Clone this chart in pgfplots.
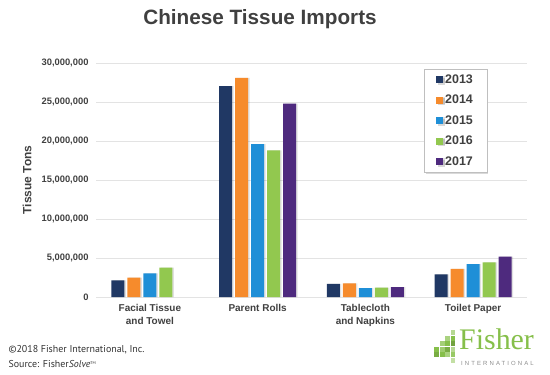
\documentclass[border=0pt]{standalone}
\usepackage{pgfplots}
\pgfplotsset{compat=1.18}
\usepackage{fontspec}
\setmainfont{Liberation Sans}
\newfontfamily\ptsans{PT Sans}
\newfontfamily\logoserif{Liberation Serif}
\newfontfamily\intl[LetterSpace=35]{Liberation Sans}
\usetikzlibrary{shadows}
\definecolor{c13}{HTML}{203864}
\definecolor{c14}{HTML}{F68B2C}
\definecolor{c15}{HTML}{1F8FD7}
\definecolor{c16}{HTML}{92C84F}
\definecolor{c17}{HTML}{4E2A7E}
\definecolor{txt}{HTML}{404040}
\definecolor{gridc}{HTML}{E3E3E3}
\definecolor{logog}{HTML}{86BF4A}
\begin{document}
\begin{tikzpicture}[x=1bp,y=1bp]
\path[use as bounding box] (0,0) rectangle (550,374);
\begin{axis}[
  at={(96bp,77bp)}, anchor=south west,
  scale only axis, width=431bp, height=234bp,
  ybar=3bp, bar width=13bp,
  xmin=-0.5, xmax=3.5, ymin=0, ymax=30000000,
  xtick={0,1,2,3},
  xticklabels={{Facial Tissue\\and Towel},{Parent Rolls},{Tablecloth\\and Napkins},{Toilet Paper}},
  xticklabel style={align=center, font=\fontsize{10}{13}\selectfont\bfseries, text=txt, yshift=-3.5bp},
  ytick={0,5000000,10000000,15000000,20000000,25000000,30000000},
  scaled y ticks=false,
  yticklabel style={font=\fontsize{9.4}{10}\selectfont\bfseries, text=txt, xshift=-4bp, /pgf/number format/.cd, fixed, 1000 sep={,}, assume math mode=true},
  ymajorgrids, grid style={gridc, line width=0.8bp},
  axis line style={draw=none},
  major tick length=0pt,
  legend style={at={(0.761,0.974)}, anchor=north west, draw=black!25, fill=white,
    font=\fontsize{12.5}{14}\selectfont\bfseries, text=txt, row sep=6.3bp,
    inner xsep=12bp, inner ysep=3.5bp, drop shadow={shadow xshift=1.5bp, shadow yshift=-1.5bp, opacity=0.3}},
  legend cell align=left,
  legend image code/.code={\fill[#1] (2bp,-3.5bp) rectangle (9bp,3.5bp);},
  every axis plot/.append style={draw=none},
  clip=false,
]
\addplot[fill=c13, preaction={fill=black, opacity=0.12, transform canvas={xshift=1.5bp}}] coordinates {(0,2140000) (1,27050000) (2,1670000) (3,2900000)};
\addplot[fill=c14, preaction={fill=black, opacity=0.12, transform canvas={xshift=1.5bp}}] coordinates {(0,2500000) (1,28100000) (2,1750000) (3,3600000)};
\addplot[fill=c15, preaction={fill=black, opacity=0.12, transform canvas={xshift=1.5bp}}] coordinates {(0,3040000) (1,19600000) (2,1150000) (3,4200000)};
\addplot[fill=c16, preaction={fill=black, opacity=0.12, transform canvas={xshift=1.5bp}}] coordinates {(0,3760000) (1,18800000) (2,1200000) (3,4450000)};
\addplot[fill=c17, preaction={fill=black, opacity=0.12, transform canvas={xshift=1.5bp}}] coordinates {(1,24800000) (2,1280000) (3,5170000)};
\legend{2013,2014,2015,2016,2017}
\end{axis}
\node[rotate=90, font=\fontsize{12}{14}\selectfont\bfseries, text=txt] at (27,194) {Tissue Tons};
\node[font=\fontsize{20.8}{24}\selectfont\bfseries, text=txt] at (260,355) {Chinese Tissue Imports};
\node[anchor=base west, font=\ptsans\fontsize{10}{12}\selectfont, text=black!80] at (5,21.5) {©2018 Fisher International, Inc.};
\node[anchor=base west, font=\ptsans\fontsize{10}{12}\selectfont, text=black!80] at (5,7) {Source: Fisher\textit{Solve}\raisebox{3bp}{\fontsize{4}{4}\selectfont TM}};
% logo
\node[anchor=base west, inner sep=0pt, font=\logoserif\fontsize{30}{30}\selectfont, text=logog] at (459,25) {Fisher};
\node[anchor=base west, inner sep=0pt, font=\intl\fontsize{6}{6}\selectfont, text=black!45] at (461,9) {INTERNATIONAL};
\begin{scope}[shift={(434,14)}]
\fill[logog!90!black] (0,3) rectangle (5,8);
\fill[logog] (5.5,3) rectangle (10.5,8);
\fill[logog!70] (11,3) rectangle (16,8);
\fill[logog!85] (16.5,3) rectangle (21,8);
\fill[logog] (0,8.5) rectangle (5,13.5);
\fill[logog!80] (5.5,8.5) rectangle (10.5,13.5);
\fill[logog!90!black] (11,8.5) rectangle (16,13.5);
\fill[logog!60] (16.5,8.5) rectangle (21,13.5);
\fill[logog!75] (5.5,14) rectangle (10.5,19);
\fill[logog] (11,14) rectangle (16,19);
\fill[logog!85!black] (16.5,14) rectangle (21,19);
\fill[logog!70] (11,19.5) rectangle (16,24.5);
\fill[logog] (16.5,19.5) rectangle (21,24.5);
\fill[logog!60] (16.5,25) rectangle (21,30);
\fill[logog!50] (16.5,-2.5) rectangle (21,2.5);
\end{scope}
\end{tikzpicture}
\end{document}
